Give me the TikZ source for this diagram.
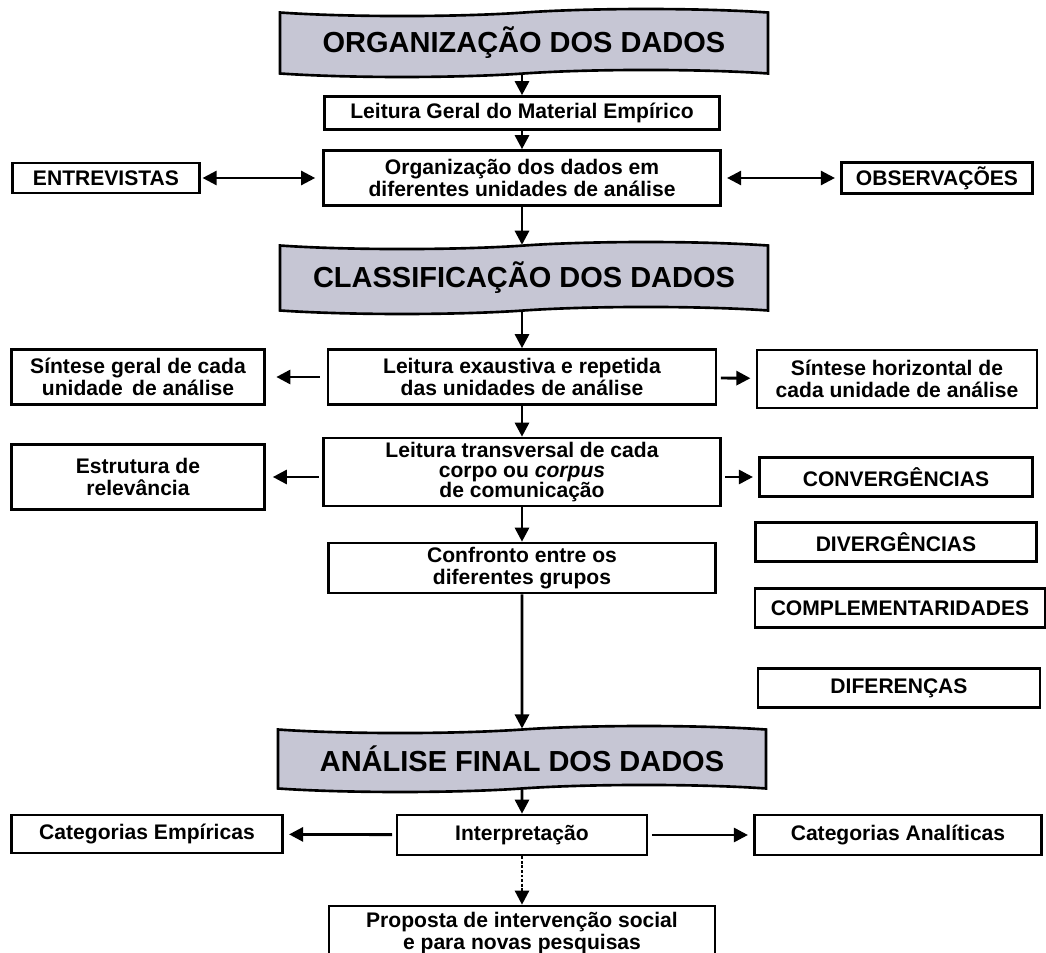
\documentclass[tikz,border=0pt]{standalone}
\usepackage{fontspec}
\setmainfont{Liberation Sans}
\usetikzlibrary{shapes.symbols,arrows.meta}
\definecolor{faixacor}{RGB}{198,198,212}

\begin{document}
\begin{tikzpicture}[x=0.02cm,y=-0.02cm,
    caixa/.style={draw,line width=1.5pt,fill=white,align=center,inner sep=1pt,
      font=\fontsize{12}{12.5}\selectfont\bfseries},
    faixa/.style={draw,tape,line width=1.5pt,fill=faixacor,tape bend height=4pt,
      minimum width=9.76cm,minimum height=1.36cm,
      font=\fontsize{16.5}{18}\selectfont\bfseries},
    seta/.style={-{Triangle[length=8pt,width=8pt]},line width=1.6pt},
    dupla/.style={{Triangle[length=8pt,width=8pt]}-{Triangle[length=8pt,width=8pt]},line width=1.4pt}]
  \useasboundingbox (0,0) rectangle (1046,953);

  % organizacao
  \node[faixa] (org) at (524,43) {ORGANIZAÇÃO DOS DADOS};
  \node[caixa,minimum width=7.9cm,minimum height=0.66cm] (leitura) at (522,113) {Leitura Geral do Material Empírico};
  \node[caixa,minimum width=7.94cm,minimum height=1.1cm] (unidades) at (522,178) {Organização dos dados em\\ diferentes unidades de análise};
  \node[caixa,minimum width=3.74cm,minimum height=0.6cm] (entrev) at (106,178) {ENTREVISTAS};
  \node[caixa,minimum width=3.82cm,minimum height=0.62cm] (observ) at (937,178) {OBSERVAÇÕES};

  % classificacao
  \node[faixa,minimum height=1.44cm] (classif) at (524,278) {CLASSIFICAÇÃO DOS DADOS};
  \node[caixa,minimum width=7.76cm,minimum height=1.1cm] (exaust) at (522,377) {Leitura exaustiva e repetida\\ das unidades de análise};
  \node[caixa,minimum width=5.06cm,minimum height=1.1cm] (sintgeral) at (138,377) {Síntese geral de cada\\ unidade\, de análise};
  \node[caixa,minimum width=5.6cm,minimum height=1.16cm] (sinthoriz) at (897,379) {Síntese horizontal de\\ cada unidade de análise};
  \node[caixa,minimum width=7.94cm,minimum height=1.36cm,font=\fontsize{12}{11.5}\selectfont\bfseries] (transv) at (522,472) {Leitura transversal de cada\\ corpo ou \textit{corpus}\\ de comunicação};
  \node[caixa,minimum width=5.06cm,minimum height=1.3cm] (estrut) at (138,477) {Estrutura de\\ relevância};
  \node[caixa,minimum width=5.46cm,minimum height=0.78cm] (converg) at (896,477) {CONVERGÊNCIAS};
  \node[caixa,minimum width=7.74cm,minimum height=1.0cm] (confronto) at (522,568) {Confronto entre os\\ diferentes grupos};
  \foreach \nome/\x/\y/\w/\txt in {diverg/896/542/5.62/DIVERGÊNCIAS,
      complem/900/608/5.8/COMPLEMENTARIDADES,difer/899/688/5.64/DIFERENÇAS} {
    \node[caixa,minimum width=\w cm,minimum height=0.77cm] (\nome) at (\x,\y) {\txt};
  }

  % analise final
  \node[faixa,minimum height=1.32cm] (analise) at (522,759) {ANÁLISE FINAL DOS DADOS};
  \node[caixa,minimum width=5.0cm,minimum height=0.8cm] (interp) at (522,835) {Interpretação};
  \node[caixa,minimum width=5.42cm,minimum height=0.76cm] (catemp) at (147,834) {Categorias Empíricas};
  \node[caixa,minimum width=5.74cm,minimum height=0.8cm] (catanal) at (898,835) {Categorias Analíticas};
  \node[caixa,minimum width=7.72cm,minimum height=1.08cm] (proposta) at (522,933) {Proposta de intervenção social\\ e para novas pesquisas};

  % setas
  \draw[seta] (org.south -| leitura) -- (leitura);
  \draw[seta] (leitura) -- (unidades);
  \draw[dupla,shorten >=4pt,shorten <=1pt] (entrev) -- (unidades);
  \draw[dupla,shorten <=3pt,shorten >=3pt] (unidades) -- (observ);
  \draw[seta] (unidades) -- (unidades |- classif.north);
  \draw[seta] (classif.south -| exaust) -- (exaust);
  \draw[seta,shorten <=4pt,shorten >=6pt] (exaust) -- (sintgeral);
  \draw[seta,shorten <=2pt,shorten >=3pt] (exaust) -- (sinthoriz);
  \draw[seta] (exaust) -- (transv);
  \draw[seta,shorten <=2pt,shorten >=4pt] (transv.west |- estrut) -- (estrut);
  \draw[seta,shorten <=2pt,shorten >=3pt] (transv.east |- converg) -- (converg);
  \draw[seta] (transv) -- (confronto);
  \draw[seta] (confronto) -- (analise);
  \draw[seta] (analise) -- (interp);
  \draw[seta,shorten <=2pt,shorten >=3pt] (interp) -- (catemp);
  \draw[seta,shorten <=2pt,shorten >=3pt] (interp) -- (catanal);
  \draw[seta,densely dotted,line width=1.4pt] (interp) -- (proposta);
\end{tikzpicture}
\end{document}
